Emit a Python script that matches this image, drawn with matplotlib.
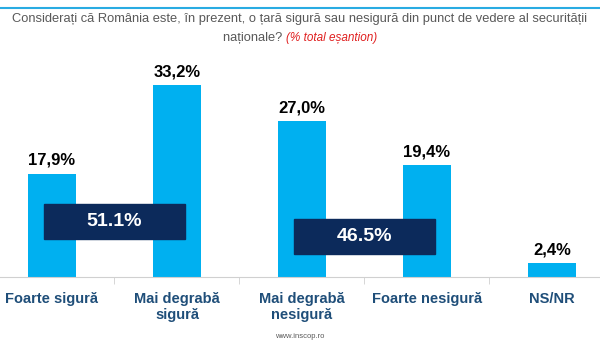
import matplotlib.pyplot as plt
from matplotlib.patches import Rectangle

plt.rcParams["font.family"] = ["Liberation Sans", "DejaVu Sans"]

categories = ["Foarte sigură", "Mai degrabă\nsigură", "Mai degrabă\nnesigură",
              "Foarte nesigură", "NS/NR"]
values = [17.9, 33.2, 27.0, 19.4, 2.4]
value_labels = ["17,9%", "33,2%", "27,0%", "19,4%", "2,4%"]
group_labels = ["51.1%", "46.5%"]
group_spans = [(0, 1), (2, 3)]
group_levels = [9.6, 7.0]

BAR_COLOR = "#00b0f0"
BOX_COLOR = "#0c2a5b"
CAT_COLOR = "#1f4e79"

W, H = 600, 342
fig = plt.figure(figsize=(W / 100, H / 100), dpi=100)

# top cyan rule
fig.add_artist(plt.Line2D([0, 1], [1 - 8 / H, 1 - 8 / H], color="#29abe2", lw=1.5))

ax = fig.add_axes([0, 65 / H, 1, 227 / H])
x = list(range(len(categories)))
ax.bar(x, values, width=0.39, color=BAR_COLOR, zorder=2)
ax.set_xlim(-52 / 125, (600 - 52) / 125)
ax.set_ylim(0, 227 / 5.78)

for xi, v, lab in zip(x, values, value_labels):
    ax.annotate(lab, (xi, v), xytext=(0, 4), textcoords="offset points",
                ha="center", va="bottom", fontsize=12, fontweight="bold",
                color="black")

for (a, b), lab, lvl in zip(group_spans, group_labels, group_levels):
    left = a - 0.065
    width = (b - a) + 0.13
    ax.add_patch(Rectangle((left, lvl - 2.95), width, 5.9, color=BOX_COLOR, zorder=3))
    ax.text((a + b) / 2, lvl, lab, ha="center", va="center", fontsize=14,
            fontweight="bold", color="white", zorder=4)

for s in ["top", "right", "left"]:
    ax.spines[s].set_visible(False)
ax.spines["bottom"].set_color("#d0d0d0")
ax.set_yticks([])
ax.set_xticks(x)
ax.set_xticklabels(categories, fontsize=10.5, fontweight="bold", color=CAT_COLOR,
                   linespacing=1.15)
ax.tick_params(axis="x", which="major", length=0, pad=11)
ax.set_xticks([i + 0.5 for i in range(len(categories) - 1)], minor=True)
ax.tick_params(axis="x", which="minor", length=5, color="#d0d0d0")

# title
fig.text(0.5, 1 - 19 / H, "Considerați că România este, în prezent, o țară sigură sau "
         "nesigură din punct de vedere al securității", ha="center", va="center",
         fontsize=9.3, color="#595959")
t1 = fig.text(0, 1 - 38 / H, "naționale? ", ha="left", va="center",
              fontsize=9.3, color="#595959")
t2 = fig.text(0, 1 - 38 / H, "(% total eșantion)", ha="left", va="center",
              fontsize=8.5, style="italic", color="#e02020")
fig.canvas.draw()
r = fig.canvas.get_renderer()
w1 = t1.get_window_extent(r).width
w2 = t2.get_window_extent(r).width
start = (W - w1 - w2) / 2
t1.set_x(start / W)
t2.set_x((start + w1) / W)

fig.text(0.5, 1 - 336 / H, "www.inscop.ro", ha="center", va="center",
         fontsize=5.5, color="#595959")

fig.savefig("out.png", dpi=100)
